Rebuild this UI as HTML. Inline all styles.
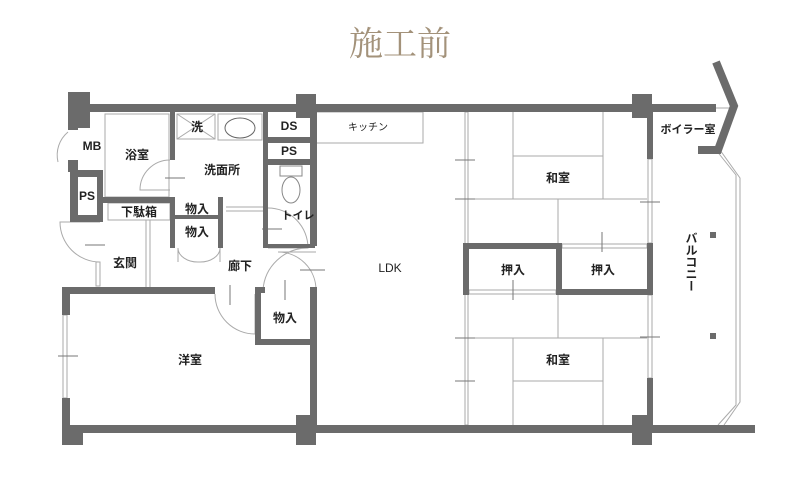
<!DOCTYPE html>
<html><head><meta charset="utf-8"><style>
html,body{margin:0;padding:0;background:#fff;}
svg{display:block;}
text{font-family:"Liberation Sans","Noto Sans CJK JP",sans-serif;font-size:12px;fill:#222;font-weight:bold;text-anchor:middle;dominant-baseline:central;}
</style></head><body>
<svg width="800" height="480" viewBox="0 0 800 480">
<text x="400" y="45" style="font-family:'Liberation Serif','Noto Serif CJK SC',serif;font-size:34px;fill:#a3927a;font-weight:normal">施工前</text>
<g fill="none" stroke="#aaa" stroke-width="1">
<!-- thin lines -->
<rect x="105" y="114" width="64" height="83"/>
<rect x="177" y="114" width="38" height="25"/>
<line x1="177" y1="114" x2="215" y2="139"/><line x1="215" y1="114" x2="177" y2="139"/>
<rect x="218" y="114" width="44" height="26"/>
<ellipse cx="240" cy="128" rx="15" ry="10" stroke="#666"/>
<rect x="316" y="112" width="107" height="31"/>
<rect x="108" y="203" width="62" height="17"/>
<line x1="146" y1="220" x2="146" y2="287"/><line x1="150" y1="220" x2="150" y2="287"/>
<rect x="465" y="112" width="3" height="313"/>
<rect x="648" y="159" width="4" height="84"/>
<rect x="648" y="295" width="4" height="83"/>
<line x1="513" y1="112" x2="513" y2="199"/><line x1="603" y1="112" x2="603" y2="199"/>
<line x1="513" y1="156" x2="603" y2="156"/>
<line x1="468" y1="199" x2="647" y2="199"/><line x1="558" y1="199" x2="558" y2="243"/>
<line x1="468" y1="338" x2="647" y2="338"/><line x1="558" y1="295" x2="558" y2="338"/>
<line x1="513" y1="338" x2="513" y2="425"/><line x1="603" y1="338" x2="603" y2="425"/>
<line x1="513" y1="381" x2="603" y2="381"/>
<rect x="469" y="290" width="87" height="4"/>
<rect x="562" y="244" width="85" height="4"/>
<rect x="63" y="315" width="4" height="83"/>
<rect x="96" y="262" width="4" height="24"/>
<polyline points="716,150 736,175 736,405 718,425"/>
<polyline points="720,150 740,178 740,402 724,425"/>
<line x1="652" y1="108" x2="732" y2="108"/>
<!-- door arcs -->
<path d="M170 160 A30 30 0 0 0 140 190 L170 190"/>
<path d="M58 162 A30 30 0 0 1 68 132"/>
<path d="M100 262 A40 40 0 0 1 60 222 L100 222"/>
<path d="M268 208 A40 40 0 0 1 308 248 L268 248"/>
<path d="M215 294 A40 40 0 0 0 255 334 L255 294"/>
<path d="M316 290 A38 38 0 0 0 278 252 L316 252"/>
<path d="M263 290 A45 45 0 0 1 308 248"/>
<path d="M178 248 L178 262 M220 248 L220 262 M178 248 A20 14 0 0 0 199 262 A20 14 0 0 0 220 248"/>
<line x1="226" y1="207" x2="263" y2="207"/><line x1="226" y1="211" x2="263" y2="211"/>
<!-- toilet -->
<rect x="280" y="166" width="22" height="10" stroke="#888"/>
<ellipse cx="291" cy="190" rx="9" ry="13" stroke="#888"/>
<!-- small marks -->
<path d="M455 160h20M455 199h20M455 338h20M455 381h20M640 202h20M640 337h20M602 232v20M513 280v20M230 285v20M285 280v20M300 270h25M165 178h20M85 245h20M240 315v0M58 356h20M262 229h20M190 205h0" stroke="#777"/>
</g>
<g fill="#6b6b6b">
<rect x="68" y="104" width="648" height="8"/>
<rect x="68" y="92" width="22" height="36"/>
<rect x="296" y="94" width="20" height="24"/>
<rect x="632" y="94" width="20" height="24"/>
<rect x="647" y="104" width="6" height="55"/>
<rect x="647" y="378" width="6" height="50"/>
<rect x="62" y="425" width="693" height="8"/>
<rect x="62" y="425" width="21" height="20"/>
<rect x="296" y="415" width="20" height="30"/>
<rect x="632" y="415" width="20" height="30"/>
<!-- oshiire -->
<rect x="463" y="243" width="6" height="52"/>
<rect x="463" y="243" width="99" height="6"/>
<rect x="556" y="243" width="6" height="52"/>
<rect x="556" y="289" width="97" height="6"/>
<rect x="647" y="243" width="6" height="52"/>
<!-- left module -->
<rect x="68" y="112" width="10" height="18"/>
<rect x="68" y="160" width="10" height="12"/>
<path d="M70 170 H103 V222 H70 Z M78 177 V215 H97 V177 Z" fill-rule="evenodd"/>
<rect x="170" y="112" width="5" height="48"/>
<rect x="103" y="197" width="72" height="6"/>
<rect x="170" y="197" width="5" height="51"/>
<rect x="218" y="197" width="5" height="51"/>
<rect x="175" y="215" width="45" height="4"/>
<rect x="263" y="112" width="5" height="136"/>
<rect x="268" y="137" width="42" height="6"/>
<rect x="268" y="159" width="42" height="6"/>
<rect x="263" y="244" width="52" height="4"/>
<rect x="310" y="112" width="7" height="134"/>
<rect x="310" y="287" width="7" height="140"/>
<rect x="62" y="287" width="153" height="7"/>
<rect x="62" y="287" width="8" height="28"/>
<rect x="62" y="398" width="8" height="30"/>
<rect x="255" y="287" width="10" height="6"/>
<rect x="255" y="287" width="6" height="58"/>
<rect x="255" y="339" width="60" height="6"/>
<rect x="710" y="232" width="6" height="6"/>
<rect x="710" y="333" width="6" height="6"/>
</g>
<polyline points="716,62 734,106 718,150 698,150" fill="none" stroke="#6b6b6b" stroke-width="8"/>
<text x="92" y="146">MB</text>
<text x="137" y="155">浴室</text>
<text x="197" y="127">洗</text>
<text x="289" y="126">DS</text>
<text x="289" y="151">PS</text>
<text x="222" y="170">洗面所</text>
<text x="87" y="196">PS</text>
<text x="139" y="212">下駄箱</text>
<text x="197" y="209">物入</text>
<text x="197" y="232">物入</text>
<text x="298" y="216" style="font-size:11px">トイレ</text>
<text x="125" y="263">玄関</text>
<text x="240" y="266">廊下</text>
<text x="390" y="268" style="font-weight:normal">LDK</text>
<text x="285" y="318">物入</text>
<text x="190" y="360">洋室</text>
<text x="368" y="128" style="font-size:10px;font-weight:normal">キッチン</text>
<text x="558" y="178">和室</text>
<text x="513" y="270">押入</text>
<text x="603" y="270">押入</text>
<text x="558" y="360">和室</text>
<text x="688" y="130" style="font-size:11px">ボイラー室</text>
<text x="691" y="262" style="writing-mode:tb;font-size:12px">バルコニー</text>
</svg>
</body></html>
